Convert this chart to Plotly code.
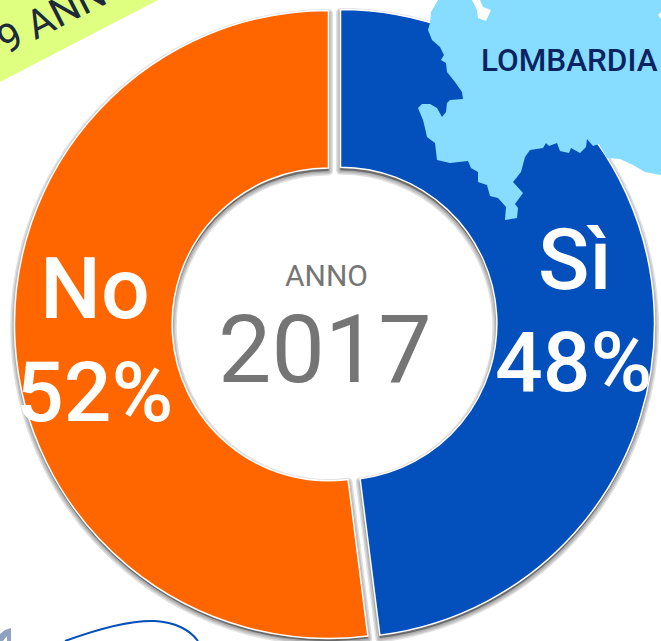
import plotly.graph_objects as go

W, H = 661, 641
categories = ["Sì", "No"]
values = [48, 52]
colors = ["#0350BD", "#FF6600"]
year = "2017"
year_caption = "ANNO"
region = "LOMBARDIA"
banner = "9 ANN"

CX = {"Sì": 340.5, "No": 328.5}
CY = {"Sì": 323.6, "No": 324.4}
R = 314
HOLE = 0.498


def px(x):
    return x / W


def py(y):
    return 1 - y / H


def domain(cx, cy):
    return dict(
        x=[max(0, px(cx - R)), min(1, px(cx + R))],
        y=[max(0, py(cy + R)), min(1, py(cy - R))],
    )


def slice_trace(idx, dx, dy, fill, line_color, line_width):
    name = categories[idx]
    return go.Pie(
        labels=categories,
        values=values,
        sort=False,
        direction="clockwise",
        rotation=0,
        hole=HOLE,
        domain=domain(CX[name] + dx, CY[name] + dy),
        marker=dict(
            colors=[fill if i == idx else "rgba(0,0,0,0)" for i in range(2)],
            line=dict(
                color=[line_color if i == idx else "rgba(0,0,0,0)" for i in range(2)],
                width=line_width,
            ),
        ),
        textinfo="none",
        hoverinfo="skip",
        showlegend=False,
    )


fig = go.Figure()
for idx in range(2):
    for lw in (9, 6, 3):
        fig.add_trace(
            slice_trace(idx, 0, 3, "rgba(0,0,0,0.15)", "rgba(0,0,0,0.12)", lw)
        )
for idx in range(2):
    fig.add_trace(slice_trace(idx, 0, 0, colors[idx], "#FFFFFF", 1.5))


def path(points, close=True):
    d = "M " + " L ".join(f"{px(x):.5f},{py(y):.5f}" for x, y in points)
    return d + (" Z" if close else "")


map_outline = [
    (438, 0), (431, 12), (430, 23), (428, 30), (432, 40), (440, 47), (444, 55), (441, 60),
    (446, 63), (447, 72), (455, 82), (462, 92), (463, 99), (450, 100), (447, 103), (446, 112),
    (442, 117), (437, 108), (430, 104), (422, 104), (418, 108), (423, 120), (425, 128),
    (427, 137), (435, 143), (437, 160), (450, 163), (468, 161), (471, 168), (478, 172),
    (478, 182), (487, 185), (490, 196), (498, 198), (506, 207), (505, 220), (517, 218),
    (518, 208), (515, 204), (523, 193), (513, 182), (521, 172), (525, 157), (530, 150),
    (543, 148), (546, 143), (549, 146), (557, 143), (560, 151), (569, 153), (571, 148),
    (580, 153), (586, 147), (587, 139), (593, 146), (599, 144), (607, 158), (620, 159),
    (633, 165), (645, 172), (661, 175), (661, 0),
]
lake = [(472, 0), (477, 10), (478, 18), (486, 21), (491, 10), (483, 7), (480, 0)]
lake2 = [(661, 12), (658, 15), (661, 19)]
banner_poly = [(0, 0), (158, 0), (0, 82)]
scrap = [(0, 641), (0, 634), (5, 630), (11, 628), (11, 641), (7, 641), (7, 636), (3, 641)]
curve = (
    f"M {px(65):.5f},{py(641):.5f} "
    f"C {px(95):.5f},{py(630):.5f} {px(130):.5f},{py(620):.5f} {px(155):.5f},{py(621):.5f} "
    f"C {px(175):.5f},{py(622):.5f} {px(190):.5f},{py(630):.5f} {px(198):.5f},{py(641):.5f}"
)

common = dict(type="path", xref="paper", yref="paper", layer="above")
shapes = [
    dict(path=path(banner_poly), fillcolor="#DFFF80", line_width=0, **common),
    dict(path=path(map_outline), fillcolor="#87DDFF", line_width=0, **common),
    dict(path=path(lake), fillcolor="#FFFFFF", line_width=0, **common),
    dict(path=path(lake2), fillcolor="#FFFFFF", line_width=0, **common),
    dict(path=path(scrap), fillcolor="#8FA3C0", line_width=0, **common),
    dict(path=curve, line=dict(color="#0350BD", width=2), **common),
]


def note(x, y, text, size, color, weight=400, angle=0):
    return dict(
        x=px(x), y=py(y), xref="paper", yref="paper", text=text, showarrow=False,
        xanchor="center", yanchor="middle", textangle=angle,
        font=dict(family="Roboto", size=size, color=color, weight=weight),
    )


annotations = [
    note(326, 275, year_caption, 30, "#757575"),
    note(325, 349, year, 95, "#757575"),
    note(569.5, 60, region, 31.5, "#0A2463", 500),
    note(575, 260, categories[0], 85, "#FFFFFF", 500),
    note(573, 362, f"{values[0]}%", 84, "#FFFFFF", 500),
    note(94.5, 288, categories[1], 86, "#FFFFFF", 500),
    note(95, 392, f"{values[1]}%", 84, "#FFFFFF", 500),
    note(52, 17, banner, 40, "#1E2A3A", 400, -27),
]

fig.update_layout(
    width=W, height=H,
    margin=dict(l=0, r=0, t=0, b=0),
    paper_bgcolor="#FFFFFF",
    plot_bgcolor="#FFFFFF",
    showlegend=False,
    shapes=shapes,
    annotations=annotations,
)
fig.write_html(
    "out.html",
    config={"displayModeBar": False},
    post_script="document.body.style.margin='0';",
)
